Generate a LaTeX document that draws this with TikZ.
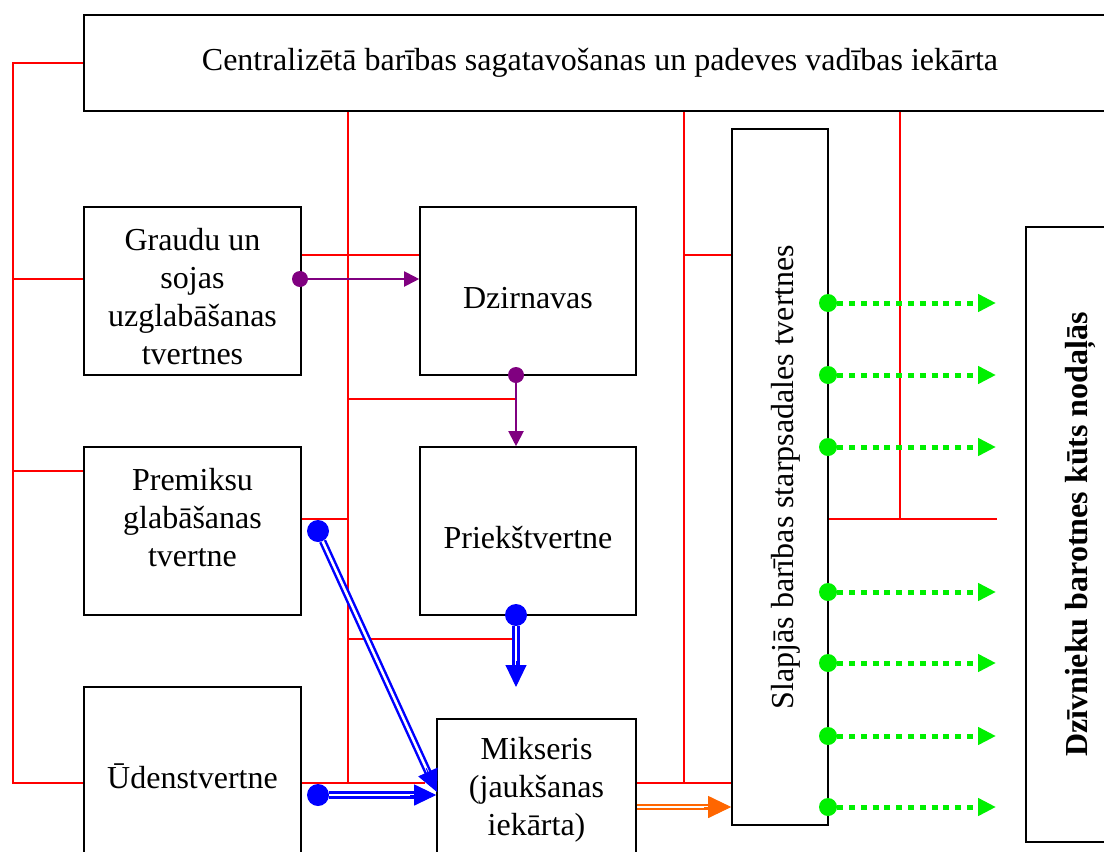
\documentclass[tikz,border=0pt]{standalone}
\usepackage{fontspec}
\usepackage{graphicx}
\setmainfont{Liberation Serif}
\usetikzlibrary{arrows.meta,calc}
\definecolor{cred}{RGB}{255,0,0}
\definecolor{cpurple}{RGB}{128,0,128}
\definecolor{cblue}{RGB}{0,0,255}
\definecolor{cgreen}{RGB}{0,240,0}
\definecolor{corange}{RGB}{255,102,0}
\begin{document}
\begin{tikzpicture}[x=1pt,y=-1pt,
  box/.style={draw=black, line width=1.6pt, inner sep=0pt, align=center, font=\fontsize{32}{38}\selectfont},
  ctl/.style={draw=cred, line width=1.3pt},
  pdot/.style={circle, fill=cpurple, inner sep=0pt, minimum size=16pt},
  bdot/.style={circle, fill=cblue, inner sep=0pt, minimum size=22pt},
  gdot/.style={circle, fill=cgreen, inner sep=0pt, minimum size=18pt},
  parrow/.style={draw=cpurple, line width=2pt, -{Triangle[length=15pt,width=15pt]}},
  dblb/.style={draw=cblue, double=white, line width=2.5pt, double distance=2.5pt},
  tipb/.style={draw=cblue, line width=1pt, -{Triangle[length=22pt,width=21pt]}},
  dblo/.style={draw=corange, double=white, line width=2pt, double distance=2.5pt},
  tipo/.style={draw=corange, line width=1pt, -{Triangle[length=23pt,width=22pt]}},
  garrow/.style={draw=cgreen, line width=5pt, dash pattern=on 6pt off 5.8pt, -{Triangle[length=18pt,width=17pt]}},
]
\useasboundingbox (0,0) rectangle (1104,852);
\clip (0,0) rectangle (1104,852);

% boxes
\node[box, minimum width=1032pt, minimum height=96pt] (top) at (600,63) {Centralizētā barības sagatavošanas un padeves vadības iekārta};
\node[box, minimum width=217pt, minimum height=168pt] (graudu) at (192.5,291) {\rule{0pt}{33pt}Graudu un\\sojas\\uzglabāšanas\\tvertnes};
\node[box, minimum width=216pt, minimum height=168pt, text height=35pt, text depth=0pt] (dzirn) at (528,291) {Dzirnavas};
\node[box, minimum width=217pt, minimum height=168pt] (prem) at (192.5,531) {Premiksu\\glabāšanas\\tvertne\\[-10pt]\mbox{}};
\node[box, minimum width=216pt, minimum height=168pt, text height=35pt, text depth=0pt] (prieks) at (528,531) {Priekštvertne};
\node[box, minimum width=217pt, minimum height=179pt] (udens) at (192.5,776.5) {Ūdenstvertne};
\node[box, minimum width=199pt, minimum height=141pt] (mik) at (536.5,789.5) {Mikseris\\(jaukšanas\\iekārta)};
\node[box, minimum width=96pt, minimum height=696pt] (slap) at (780,477) {\hspace*{12pt}\rotatebox{90}{Slapjās barības starpsadales tvertnes}};
\node[box, minimum width=108pt, minimum height=615pt] (dziv) at (1080,534.5) {\rotatebox{90}{\bfseries Dzīvnieku barotnes kūts nodaļās}};

% control lines (red)
\draw[ctl] (top.west |- 0,63) -- (13,63) -- (13,783) -- (udens.west |- 0,783);
\draw[ctl] (13,279) -- (graudu.west |- 0,279);
\draw[ctl] (13,471) -- (prem.west |- 0,471);
\draw[ctl] (top.south -| 348,0) -- (348,783);
\draw[ctl] (graudu.east |- 0,255) -- (dzirn.west |- 0,255);
\draw[ctl] (348,399) -- (516,399);
\draw[ctl] (prem.east |- 0,519) -- (348,519);
\draw[ctl] (348,639) -- (516,639);
\draw[ctl] (udens.east |- 0,783) -- (425,783);
\draw[ctl] (top.south -| 684,0) -- (684,783);
\draw[ctl] (684,255) -- (slap.west |- 0,255);
\draw[ctl] (mik.east |- 0,783) -- (slap.west |- 0,783);
\draw[ctl] (top.south -| 900,0) -- (900,519);
\coordinate (ctlend) at (997,519);
\draw[ctl] (slap.east |- 0,519) -- (ctlend);

% purple flows
\node[pdot] (pd1) at (300,279) {};
\node[pdot] (pd2) at (516,375) {};
\draw[parrow] (pd1) -- (dzirn.west |- pd1);
\draw[parrow] (pd2) -- (prieks.north -| pd2);

% blue flows
\node[bdot] (bd1) at (318,531) {};
\node[bdot] (bd2) at (516,615) {};
\node[bdot] (bd3) at (318,795) {};
\coordinate (bt1) at (437,792);
\coordinate (bt2) at (516,687);
\coordinate (bt3) at (mik.west |- 0,795);
\draw[dblb, shorten >=18pt] (bd1) -- (bt1);
\draw[tipb] ($(bt1)!26pt!(bd1.center)$) -- (bt1);
\draw[dblb, shorten >=18pt] (bd2) -- (bt2);
\draw[tipb] ($(bt2)!26pt!(bd2.center)$) -- (bt2);
\draw[dblb, shorten >=18pt] (bd3) -- (bt3);
\draw[tipb] ($(bt3)!26pt!(bd3.center)$) -- (bt3);

% orange flow
\coordinate (os) at (mik.east |- 0,807);
\coordinate (ot) at (slap.west |- 0,807);
\draw[dblo, shorten >=19pt] (os) -- (ot);
\draw[tipo] ($(ot)!27pt!(os)$) -- (ot);

% green flows
\foreach \i/\yy in {1/303,2/375,3/447,4/592,5/663,6/736,7/807}{
  \node[gdot] (gd\i) at (828,\yy) {};
  \coordinate (gt\i) at (996,\yy);
  \draw[garrow] (gd\i) -- (gt\i);
}
\end{tikzpicture}
\end{document}
